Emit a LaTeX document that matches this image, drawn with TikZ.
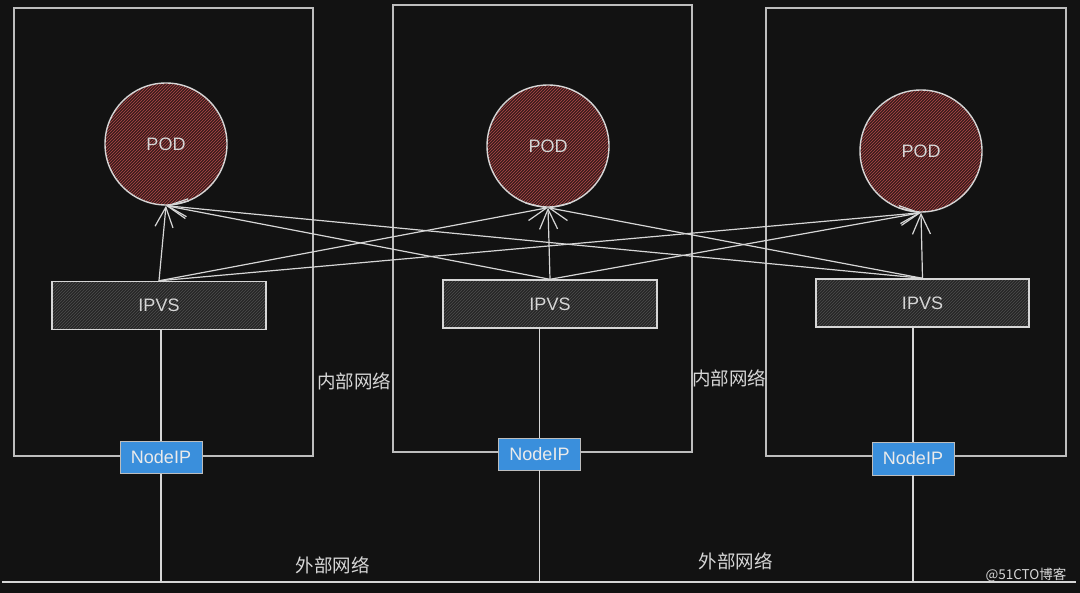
\documentclass[tikz,border=0pt]{standalone}
\usepackage{fontspec}
\setmainfont{Liberation Sans}
\newfontfamily\cjk{Noto Sans CJK SC}
\usetikzlibrary{positioning,arrows.meta,patterns}
\definecolor{bgDark}{HTML}{121212}
\definecolor{lineGray}{HTML}{D6D6D6}
\definecolor{frameGray}{HTML}{BDBDBD}
\definecolor{podRed}{HTML}{B04848}
\definecolor{podBase}{HTML}{3A1C1C}
\definecolor{ipvsGray}{HTML}{4E4E4E}
\definecolor{ipvsBase}{HTML}{262626}
\definecolor{nodeBlue}{HTML}{3A8FDC}

\begin{document}
\begin{tikzpicture}[
    x=1pt, y=-1pt,
    frameBox/.style={rectangle, draw=frameGray, line width=1.4pt},
    podStyle/.style={circle, draw=lineGray, line width=1.4pt, minimum size=122pt,
        preaction={fill=podBase}, pattern=north east lines, pattern color=podRed,
        text=lineGray, font=\fontsize{18}{20}\selectfont},
    ipvsStyle/.style={rectangle, draw=lineGray, line width=1.4pt, minimum width=214pt, minimum height=48pt,
        preaction={fill=ipvsBase}, pattern=north east lines, pattern color=ipvsGray,
        text=lineGray, font=\fontsize{18}{20}\selectfont},
    nipStyle/.style={rectangle, draw=frameGray, line width=0.8pt, fill=nodeBlue, minimum width=82pt,
        minimum height=32pt, inner sep=0pt, text=white!92!black, font=\fontsize{18}{20}\selectfont},
    netLabel/.style={text=lineGray, font=\cjk\fontsize{18.5}{20}\selectfont},
    flowArrow/.style={-{Straight Barb[length=20pt,width=18pt]}, draw=lineGray, line width=1.2pt},
    wire/.style={draw=lineGray, line width=1.2pt}
]
    \useasboundingbox[fill=bgDark] (0,0) rectangle (1080,593);

    % Node frames
    \node[frameBox, minimum width=299pt, minimum height=448pt] (frame1) at (163.5, 232) {};
    \node[frameBox, minimum width=299pt, minimum height=447pt] (frame2) at (542.5, 228.5) {};
    \node[frameBox, minimum width=300pt, minimum height=448pt] (frame3) at (916, 232) {};

    % PODs
    \node[podStyle] (pod1) at (166, 144) {POD};
    \node[podStyle] (pod2) at (548, 146) {POD};
    \node[podStyle] (pod3) at (921, 151) {POD};

    % IPVS bars
    \node[ipvsStyle] (ipvs1) at (159, 305.5) {IPVS};
    \node[ipvsStyle] (ipvs2) at (550, 304) {IPVS};
    \node[ipvsStyle, minimum width=213pt] (ipvs3) at (922.5, 303) {IPVS};

    % IPVS -> POD (every IPVS reaches every POD)
    \draw[flowArrow] (ipvs1.north) -- (pod1.south);
    \draw[flowArrow] (ipvs1.north) -- (pod2.south);
    \draw[flowArrow] (ipvs1.north) -- (pod3.south);
    \draw[flowArrow] (ipvs2.north) -- (pod1.south);
    \draw[flowArrow] (ipvs2.north) -- (pod2.south);
    \draw[flowArrow] (ipvs2.north) -- (pod3.south);
    \draw[flowArrow] (ipvs3.north) -- (pod1.south);
    \draw[flowArrow] (ipvs3.north) -- (pod2.south);
    \draw[flowArrow] (ipvs3.north) -- (pod3.south);

    % External network line
    \coordinate (netL) at (2, 582);
    \coordinate (netR) at (1076, 582);
    \draw[wire] (netL) -- (netR);

    % NodeIP boxes
    \node[nipStyle] (nip1) at (161, 457.5) {NodeIP};
    \node[nipStyle] (nip2) at (539.5, 454) {NodeIP};
    \node[nipStyle, minimum height=33pt] (nip3) at (913, 458.5) {NodeIP};

    % IPVS -- NodeIP -- external line
    \draw[wire] (nip1.north) -- (nip1.north |- ipvs1.south);
    \draw[wire] (nip2.north) -- (nip2.north |- ipvs2.south);
    \draw[wire] (nip3.north) -- (nip3.north |- ipvs3.south);
    \draw[wire] (nip1.south) -- (nip1.south |- netL);
    \draw[wire] (nip2.south) -- (nip2.south |- netL);
    \draw[wire] (nip3.south) -- (nip3.south |- netL);

    % Labels
    \node[netLabel] (inner1) at (354, 381) {内部网络};
    \node[netLabel] (inner2) at (729, 378) {内部网络};
    \node[netLabel] (outer1) at (332.5, 565) {外部网络};
    \node[netLabel] (outer2) at (735.5, 561) {外部网络};
    \node[text=lineGray, font=\cjk\fontsize{13.5}{15}\selectfont] (mark) at (1026, 575) {@51CTO博客};
\end{tikzpicture}
\end{document}
